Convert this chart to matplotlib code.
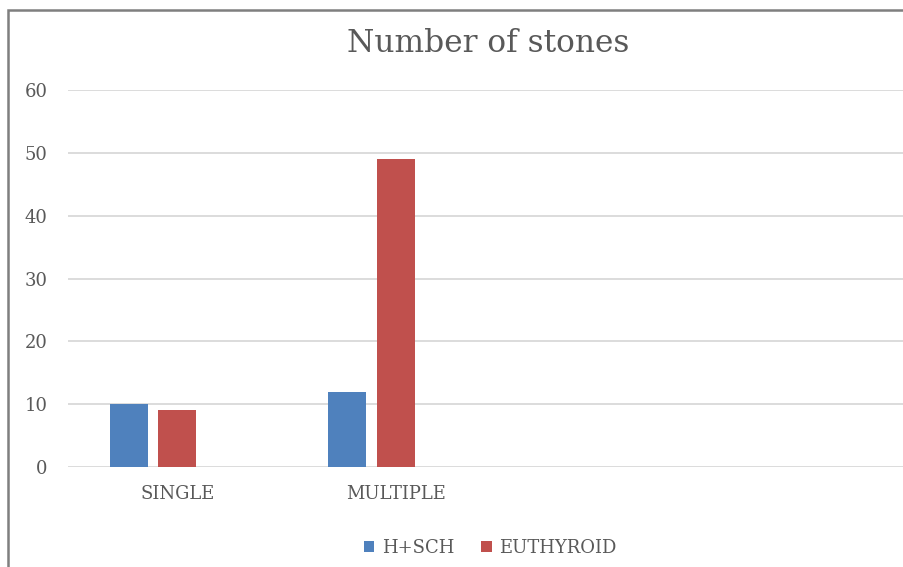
import matplotlib
matplotlib.use("Agg")
import matplotlib.pyplot as plt
from matplotlib.patches import Rectangle
import numpy as np

categories = ["SINGLE", "MULTIPLE", "", ""]
series_names = ["H+SCH", "EUTHYROID"]
hsch = [10, 12, None, None]
euthyroid = [9, 49, None, None]
yticks = [0, 10, 20, 30, 40, 50, 60]

W, H = 904, 567
fig = plt.figure(figsize=(W / 100, H / 100), dpi=100)
fam = "DejaVu Serif"
gray = "#595959"

# border of chart area (cropped on right/bottom)
fig.patches.append(Rectangle((8 / W, -0.1), 1.2, 1 - 10 / H + 0.1, transform=fig.transFigure,
                             fill=False, edgecolor="#7f7f7f", linewidth=1.8))

left = 68 / W
right_px = 68 + 4 * 219
ax = fig.add_axes([left, (H - 467) / H, (right_px - 68) / W, (467 - 90) / H])

x = np.arange(len(categories))
bw = 38 / 219
pitch = 49 / 219
vals1 = [v if v is not None else 0 for v in hsch]
vals2 = [v if v is not None else 0 for v in euthyroid]
b1 = ax.bar(x - pitch, vals1, width=bw, color="#4F81BD", label=series_names[0], zorder=3)
b2 = ax.bar(x, vals2, width=bw, color="#C0504D", label=series_names[1], zorder=3)

ax.set_xlim(-0.5, len(categories) - 0.5)
ax.set_ylim(0, 60)
ax.set_yticks(yticks)
ax.set_yticklabels([str(t) for t in yticks], fontsize=13, color=gray, family=fam)
ax.set_xticks(x)
ax.set_xticklabels(categories, fontsize=13, color=gray, family=fam)
ax.tick_params(axis="both", length=0)
ax.tick_params(axis="y", pad=14.5)
ax.tick_params(axis="x", pad=13)
ax.grid(axis="y", color="#D9D9D9", linewidth=1.3, zorder=0)
for s in ax.spines.values():
    s.set_visible(False)
ax.set_facecolor("none")

fig.text(488 / W, 1 - 52 / H, "Number of stones", ha="center", va="baseline",
         fontsize=22.5, color=gray, family=fam)

leg = fig.legend(handles=[b1, b2], labels=series_names, loc="center",
                 bbox_to_anchor=(490 / W, 1 - 548 / H), ncol=2, frameon=False,
                 prop={"family": fam, "size": 13}, handlelength=0.6, handleheight=0.6,
                 handletextpad=0.4, columnspacing=1.5, labelcolor=gray)

fig.savefig("out.png", dpi=100)
